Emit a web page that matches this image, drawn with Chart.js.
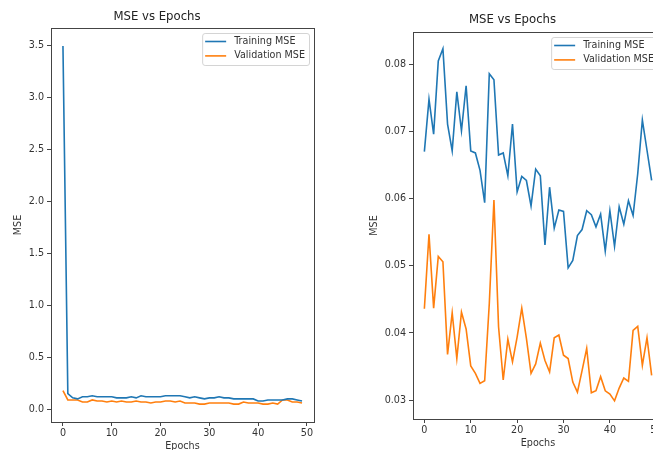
<!DOCTYPE html>
<html>
<head>
<meta charset="utf-8">
<title>MSE vs Epochs</title>
<script src="https://cdn.jsdelivr.net/npm/chart.js@4/dist/chart.umd.min.js"></script>
<style>
  html, body { margin: 0; padding: 0; background: #fff; width: 653px; height: 450px; overflow: hidden; }
  canvas { position: absolute; top: 0; }
  #left { left: 0; }
  #right { left: 362px; }
</style>
</head>
<body>
<canvas id="left" width="330" height="460"></canvas>
<canvas id="right" width="317" height="460"></canvas>
<script>
const epochs = [0, 1, 2, 3, 4, 5, 6, 7, 8, 9, 10, 11, 12, 13, 14, 15, 16, 17, 18, 19,
  20, 21, 22, 23, 24, 25, 26, 27, 28, 29, 30, 31, 32, 33, 34, 35, 36, 37, 38, 39,
  40, 41, 42, 43, 44, 45, 46, 47, 48, 49];

// left run
const trainA = [3.5, 0.15, 0.11, 0.10, 0.12, 0.12, 0.13, 0.12, 0.12, 0.12,
  0.12, 0.11, 0.11, 0.11, 0.12, 0.11, 0.13, 0.12, 0.12, 0.12,
  0.12, 0.13, 0.13, 0.13, 0.13, 0.12, 0.11, 0.12, 0.11, 0.10,
  0.11, 0.11, 0.12, 0.11, 0.11, 0.10, 0.10, 0.10, 0.10, 0.10,
  0.08, 0.08, 0.09, 0.09, 0.09, 0.09, 0.10, 0.10, 0.09, 0.08];
const validA = [0.18, 0.09, 0.09, 0.09, 0.07, 0.07, 0.09, 0.08, 0.08, 0.07,
  0.08, 0.07, 0.08, 0.07, 0.07, 0.08, 0.07, 0.07, 0.06, 0.07,
  0.07, 0.08, 0.08, 0.07, 0.08, 0.06, 0.06, 0.06, 0.05, 0.05,
  0.06, 0.06, 0.06, 0.06, 0.06, 0.05, 0.05, 0.07, 0.06, 0.06,
  0.06, 0.05, 0.05, 0.06, 0.05, 0.09, 0.09, 0.07, 0.07, 0.06];

// right run
const trainB = [0.0670, 0.0748, 0.0696, 0.0805, 0.0823, 0.0711, 0.0671, 0.0759, 0.0701, 0.0768,
  0.0671, 0.0668, 0.0642, 0.0594, 0.0786, 0.0777, 0.0665, 0.0668, 0.0634, 0.0711,
  0.0610, 0.0633, 0.0627, 0.0589, 0.0644, 0.0634, 0.0531, 0.0617, 0.0556, 0.0583,
  0.0581, 0.0497, 0.0508, 0.0545, 0.0554, 0.0582, 0.0576, 0.0558, 0.0577, 0.0522,
  0.0582, 0.0529, 0.0588, 0.0562, 0.0597, 0.0575, 0.0637, 0.0717, 0.0672, 0.0627];
const validB = [0.0436, 0.0547, 0.0437, 0.0514, 0.0506, 0.0368, 0.0430, 0.0362, 0.0431, 0.0406,
  0.0351, 0.0340, 0.0325, 0.0329, 0.0444, 0.0598, 0.0409, 0.0330, 0.0391, 0.0357,
  0.0394, 0.0437, 0.0392, 0.0340, 0.0354, 0.0385, 0.0359, 0.0342, 0.0393, 0.0397,
  0.0367, 0.0362, 0.0327, 0.0312, 0.0344, 0.0377, 0.0311, 0.0314, 0.0335, 0.0314,
  0.0309, 0.0299, 0.0318, 0.0333, 0.0328, 0.0404, 0.0410, 0.0352, 0.0393, 0.0337];

const xTicks = [0, 10, 20, 30, 40, 50];
const yTicksA = [0, 0.5, 1.0, 1.5, 2.0, 2.5, 3.0, 3.5];
const yTicksB = [0.03, 0.04, 0.05, 0.06, 0.07, 0.08];

Chart.defaults.font.family = "'DejaVu Sans', sans-serif";
Chart.defaults.color = "#333";

const frame = {
  id: "frame",
  afterDraw(chart) {
    const { ctx, chartArea: a } = chart;
    ctx.save();
    ctx.strokeStyle = "#444";
    ctx.lineWidth = 1;
    ctx.strokeRect(Math.round(a.left) + 0.5, Math.round(a.top) + 0.5,
      Math.round(a.right - a.left), Math.round(a.bottom - a.top));
    ctx.restore();
  },
};

const boxLegend = {
  id: "boxLegend",
  afterDatasetsDraw(chart) {
    const { ctx, chartArea: a } = chart;
    const sets = chart.data.datasets;
    ctx.save();
    ctx.font = "9.6px 'DejaVu Sans'";
    const textW = Math.max(...sets.map((d) => ctx.measureText(d.label).width));
    const w = textW + 36;
    const h = 32;
    const x = a.right - 5 - w;
    const y = a.top + 5;
    ctx.beginPath();
    ctx.roundRect(x + 0.5, y + 0.5, w, h, 2.5);
    ctx.fillStyle = "rgba(255,255,255,0.8)";
    ctx.fill();
    ctx.strokeStyle = "#d4d4d4";
    ctx.lineWidth = 1;
    ctx.stroke();
    sets.forEach((d, i) => {
      const cy = y + 8.5 + i * 14.4;
      ctx.strokeStyle = d.borderColor;
      ctx.lineWidth = 1.6;
      ctx.beginPath();
      ctx.moveTo(x + 3, cy);
      ctx.lineTo(x + 24, cy);
      ctx.stroke();
      ctx.fillStyle = "#333";
      ctx.textBaseline = "middle";
      ctx.fillText(d.label, x + 32, cy);
    });
    ctx.restore();
  },
};

function makeChart(id, train, valid, yTicks, yMin, yMax, digits, opt) {
  return new Chart(document.getElementById(id), {
    type: "line",
    data: {
      datasets: [
        {
          label: "Training MSE",
          data: train.map((v, i) => ({ x: epochs[i], y: v })),
          borderColor: "#1f77b4",
          borderWidth: 1.6,
          pointRadius: 0,
          tension: 0,
        },
        {
          label: "Validation MSE",
          data: valid.map((v, i) => ({ x: epochs[i], y: v })),
          borderColor: "#ff7f0e",
          borderWidth: 1.6,
          pointRadius: 0,
          tension: 0,
        },
      ],
    },
    options: {
      responsive: false,
      animation: false,
      layout: { padding: { left: 0, right: 16, top: 0, bottom: 0 } },
      plugins: {
        legend: { display: false },
        tooltip: { enabled: false },
        title: {
          display: true,
          text: "MSE vs Epochs",
          color: "#222",
          font: { size: 11.7, weight: "normal" },
          padding: { top: opt.titleTop, bottom: opt.titleBottom },
        },
      },
      scales: {
        x: {
          type: "linear",
          min: -2.45,
          max: 51.45,
          afterBuildTicks: (s) => { s.ticks = xTicks.map((v) => ({ value: v })); },
          afterFit: (s) => { s.height = opt.xHeight; },
          ticks: { font: { size: 9.6 }, padding: 2, maxRotation: 0 },
          grid: { drawOnChartArea: false, drawTicks: true, tickLength: 4, color: "#444" },
          border: { display: false },
          title: {
            display: true,
            text: "Epochs",
            font: { size: 9.6 },
            padding: { top: 0, bottom: opt.xTitlePad },
          },
        },
        y: {
          min: yMin,
          max: yMax,
          afterBuildTicks: (s) => { s.ticks = yTicks.map((v) => ({ value: v })); },
          afterFit: (s) => { s.width = 51; },
          ticks: { font: { size: 9.6 }, padding: 3, callback: (v) => v.toFixed(digits) },
          grid: { drawOnChartArea: false, drawTicks: true, tickLength: 4, color: "#444" },
          border: { display: false },
          title: {
            display: true,
            text: "MSE",
            font: { size: 9.6 },
            padding: { top: opt.yTitlePad, bottom: 0 },
          },
        },
      },
    },
    plugins: [frame, boxLegend],
  });
}

makeChart("left", trainA, validA, yTicksA, -0.1225, 3.6725, 1,
  { titleTop: 10, titleBottom: 3.96, xHeight: 38, xTitlePad: 8.2, yTitlePad: 13.2 });
makeChart("right", trainB, validB, yTicksB, 0.0272, 0.0848, 2,
  { titleTop: 13, titleBottom: 4.96, xHeight: 41, xTitlePad: 11.2, yTitlePad: 7.2 });
</script>
</body>
</html>
